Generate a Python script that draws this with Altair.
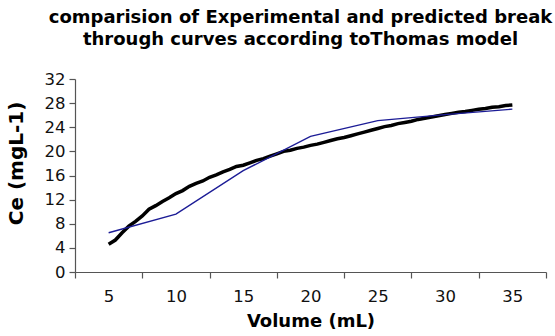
import altair as alt
import pandas as pd

# Experimental break-through curve (dense)
exp_volume = [5.0, 5.5, 6.0, 6.5, 7.0, 7.5, 8.0, 8.5, 9.0, 9.5, 10.0, 10.5, 11.0, 11.5,
              12.0, 12.5, 13.0, 13.5, 14.0, 14.5, 15.0, 15.5, 16.0, 16.5, 17.0, 17.5,
              18.0, 18.5, 19.0, 19.5, 20.0, 20.5, 21.0, 21.5, 22.0, 22.5, 23.0, 23.5,
              24.0, 24.5, 25.0, 25.5, 26.0, 26.5, 27.0, 27.5, 28.0, 28.5, 29.0, 29.5,
              30.0, 30.5, 31.0, 31.5, 32.0, 32.5, 33.0, 33.5, 34.0, 34.5, 35.0]
exp_ce = [4.6, 5.3, 6.5, 7.6, 8.4, 9.3, 10.4, 11.0, 11.7, 12.3, 13.0, 13.5, 14.2, 14.7,
          15.1, 15.7, 16.1, 16.6, 17.0, 17.5, 17.7, 18.1, 18.5, 18.8, 19.2, 19.6,
          20.0, 20.2, 20.5, 20.7, 21.0, 21.2, 21.5, 21.8, 22.1, 22.3, 22.6, 22.9,
          23.2, 23.5, 23.8, 24.1, 24.3, 24.6, 24.8, 25.0, 25.3, 25.5, 25.7, 25.9,
          26.1, 26.3, 26.5, 26.6, 26.8, 27.0, 27.1, 27.3, 27.4, 27.6, 27.7]

# Thomas model prediction
pred_volume = [5, 10, 15, 20, 25, 30, 35]
pred_ce = [6.5, 9.6, 16.8, 22.5, 25.1, 26.1, 27.0]

title_lines = ["comparision of Experimental and predicted break",
               "through curves according toThomas model"]
x_ticks = [2.5, 7.5, 12.5, 17.5, 22.5, 27.5, 32.5, 37.5]
y_ticks = [0, 4, 8, 12, 16, 20, 24, 28, 32]

exp_df = pd.DataFrame({"Volume": exp_volume, "Ce": exp_ce})
pred_df = pd.DataFrame({"Volume": pred_volume, "Ce": pred_ce})

FONT = "DejaVu Sans"

common_axis = dict(
    grid=False,
    tickSize=6,
    labelFont=FONT,
    labelFontSize=16.5,
    labelColor="#111111",
    titleFont=FONT,
    titleFontWeight="bold",
    titleColor="#000000",
    domainColor="#555555",
    tickColor="#555555",
    domainWidth=1.2,
    tickWidth=1.2,
)

x_enc = alt.X(
    "Volume:Q",
    scale=alt.Scale(domain=[2.5, 37.5], nice=False, zero=False),
    axis=alt.Axis(
        title="Volume (mL)",
        values=x_ticks,
        labelExpr="datum.value < 37 ? format(datum.value + 2.5, 'd') : ''",
        labelOffset=33.6,
        labelFlush=False,
        labelOverlap=False,
        labelBound=False,
        labelPadding=10,
        titlePadding=8,
        titleFontSize=18,
        **common_axis,
    ),
)
y_enc = alt.Y(
    "Ce:Q",
    scale=alt.Scale(domain=[0, 32], nice=False),
    axis=alt.Axis(
        title="Ce (mgL-1)",
        values=y_ticks,
        labelOverlap=False,
        labelPadding=4,
        titlePadding=18,
        titleFontSize=20,
        titleY=84,
        **common_axis,
    ),
)

exp_line = alt.Chart(exp_df).mark_line(color="#000000", strokeWidth=3.5).encode(
    x=x_enc, y=y_enc
)
pred_line = alt.Chart(pred_df).mark_line(color="#1c1c96", strokeWidth=1.4).encode(
    x=x_enc, y=y_enc
)

chart = (
    alt.layer(exp_line, pred_line)
    .properties(
        width=471,
        height=193,
        background="white",
        autosize=alt.AutoSizeParams(type="none"),
        padding={"left": 75, "top": 79, "right": 9, "bottom": 64},
        title=alt.Title(
            title_lines,
            fontSize=18,
            fontWeight="bold",
            font=FONT,
            color="#000000",
            anchor="middle",
            dx=-10,
            offset=22,
            lineHeight=22,
        ),
    )
    .configure_view(stroke=None)
)

chart.save("out.html", embed_options={"renderer": "svg", "actions": False})
